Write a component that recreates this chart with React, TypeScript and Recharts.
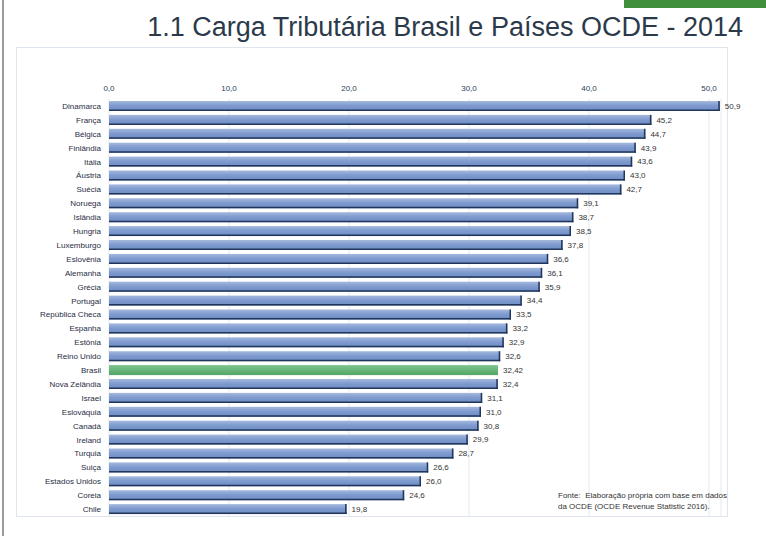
import { BarChart, Bar, XAxis, YAxis, CartesianGrid, LabelList } from 'recharts';

// Carga tributária (% do PIB) - 2014
const paises = [
  'Dinamarca', 'França', 'Bélgica', 'Finlândia', 'Itália', 'Áustria', 'Suécia', 'Noruega',
  'Islândia', 'Hungria', 'Luxemburgo', 'Eslovênia', 'Alemanha', 'Grécia', 'Portugal',
  'República Checa', 'Espanha', 'Estônia', 'Reino Unido', 'Brasil', 'Nova Zelândia', 'Israel',
  'Eslováquia', 'Canadá', 'Ireland', 'Turquia', 'Suiça', 'Estados Unidos', 'Coreia', 'Chile',
];
const carga = [
  50.9, 45.2, 44.7, 43.9, 43.6, 43.0, 42.7, 39.1, 38.7, 38.5, 37.8, 36.6, 36.1, 35.9, 34.4,
  33.5, 33.2, 32.9, 32.6, 32.42, 32.4, 31.1, 31.0, 30.8, 29.9, 28.7, 26.6, 26.0, 24.6, 19.8,
];
const xTicks = [0, 10, 20, 30, 40, 50];
const destaque = 'Brasil';

const data = paises.map((pais, i) => ({ pais, valor: carga[i] }));

const FONT = '"Liberation Sans", Arial, sans-serif';

const fmtTick = (v: number) => v.toFixed(1).replace('.', ',');
const fmtValor = (v: any) => {
  const n = Number(v);
  const s = Math.round(n * 10) === n * 10 ? n.toFixed(1) : n.toFixed(2);
  return s.replace('.', ',');
};

// category label without word wrapping
const PaisTick = (props: any) => {
  const { x, y, payload } = props;
  return (
    <text x={x} y={y} dy={3} textAnchor="end" fontSize={8} fill="#1f2d45" fontFamily={FONT}>
      {payload.value}
    </text>
  );
};

// bar with the old-excel look: gradient + dark edge at bottom/right
const BarShape = (props: any) => {
  const { x, y, width, height, payload } = props;
  if (payload?.pais === destaque) {
    return <rect x={x} y={y} width={width} height={height} fill="url(#gVerde)" />;
  }
  return (
    <g>
      <rect x={x} y={y} width={width} height={height} fill="url(#gAzul)" />
      <line x1={x} x2={x + width} y1={y + height - 0.75} y2={y + height - 0.75} stroke="#22365a" strokeWidth={1.5} />
      <line x1={x + width - 0.75} x2={x + width - 0.75} y1={y} y2={y + height} stroke="#22365a" strokeWidth={1.5} />
    </g>
  );
};

export default function App() {
  return (
    <div style={{ position: 'absolute', left: 0, top: 0, width: 766, height: 536, background: '#fff', overflow: 'hidden' }}>
      {/* slide edge + green tab */}
      <div style={{ position: 'absolute', left: 2, top: 0, width: 2, height: 536, background: '#9a9a9a' }} />
      <div style={{ position: 'absolute', left: 624, top: 0, width: 142, height: 8, background: '#3f8f3c' }} />

      <div
        style={{
          position: 'absolute', right: 23, top: 12, fontFamily: FONT,
          fontSize: 27, color: '#2b3a4b', whiteSpace: 'nowrap',
        }}
      >
        1.1 Carga Tributária Brasil e Países OCDE - 2014
      </div>

      {/* chart frame */}
      <div style={{ position: 'absolute', left: 16, top: 47, width: 712, height: 470, border: '1px solid #dfe5ec', boxSizing: 'border-box' }} />

      <div style={{ position: 'absolute', left: 0, top: 0 }}>
        <BarChart
          width={766}
          height={536}
          data={data}
          layout="vertical"
          margin={{ top: 79, right: 45, left: 9, bottom: 20 }}
        >
          <defs>
            <linearGradient id="gAzul" x1="0" y1="0" x2="0" y2="1">
              <stop offset="0%" stopColor="#a5b9de" />
              <stop offset="45%" stopColor="#7f9bcf" />
              <stop offset="100%" stopColor="#6d8bc4" />
            </linearGradient>
            <linearGradient id="gVerde" x1="0" y1="0" x2="0" y2="1">
              <stop offset="0%" stopColor="#7cc58d" />
              <stop offset="100%" stopColor="#53a566" />
            </linearGradient>
          </defs>
          <CartesianGrid horizontal={false} stroke="#e4e9f0" />
          <XAxis
            type="number"
            orientation="top"
            domain={[0, 51]}
            ticks={xTicks}
            tickFormatter={fmtTick}
            axisLine={false}
            tickLine={false}
            height={20}
            tick={{ fontSize: 8, fill: '#2d3e57', fontFamily: FONT }}
          />
          <YAxis
            type="category"
            dataKey="pais"
            width={100}
            interval={0}
            axisLine={false}
            tickLine={false}
            tick={PaisTick}
          />
          <Bar dataKey="valor" barSize={10} shape={BarShape} isAnimationActive={false}>
            <LabelList
              dataKey="valor"
              position="right"
              offset={5}
              formatter={fmtValor}
              style={{ fontSize: 8, fill: '#333', fontFamily: FONT }}
            />
          </Bar>
        </BarChart>
      </div>

      <div
        style={{
          position: 'absolute', left: 558, top: 490, fontSize: 8, lineHeight: '11px', color: '#333',
          fontFamily: FONT, whiteSpace: 'nowrap',
        }}
      >
        Fonte:&nbsp; Elaboração própria com base em dados
        <br />
        da OCDE (OCDE Revenue Statistic 2016).
      </div>
    </div>
  );
}
